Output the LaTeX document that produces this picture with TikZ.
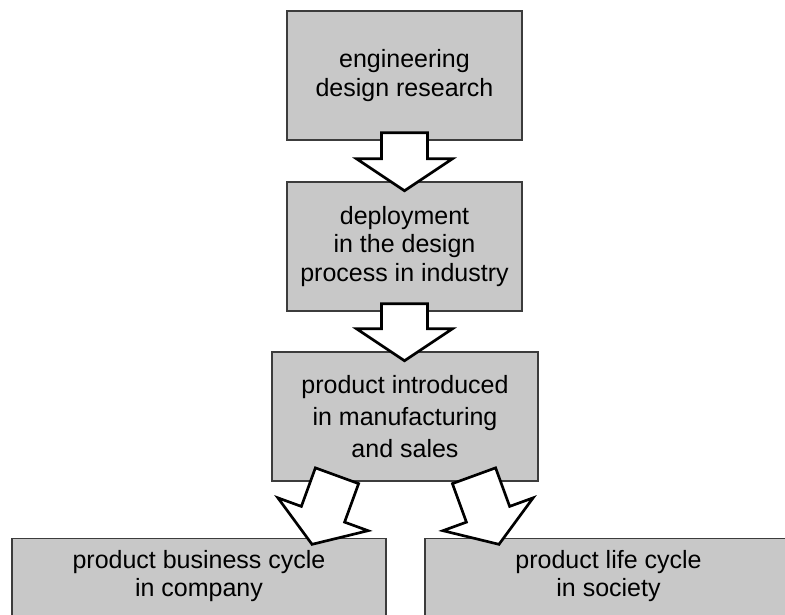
\documentclass[tikz,border=0pt]{standalone}
\usepackage{fontspec}
\setmainfont{Liberation Sans}
\usetikzlibrary{calc}
\definecolor{boxgray}{RGB}{200,200,200}
\definecolor{boxline}{RGB}{60,60,60}
\tikzset{
  stage/.style={draw=boxline, line width=1.1pt, fill=boxgray, align=center,
    inner sep=0pt, minimum height=129*0.75pt,
    font=\fontsize{18.75pt}{21.4pt}\selectfont},
  caption/.style={align=center, inner sep=0pt,
    font=\fontsize{18.75pt}{21pt}\selectfont},
  blockarrow/.style={draw=black, line width=2pt, fill=white, line join=miter},
  pics/bigarrow/.style={code={
    \draw[blockarrow] (-23,0) -- (23,0) -- (23,#1) -- (48,#1) -- (0,#1+32)
      -- (-48,#1) -- (-23,#1) -- cycle;}}
}
\begin{document}
\begin{tikzpicture}[x=0.75pt,y=-0.75pt]
  \useasboundingbox (0,0) rectangle (785,614);
  % stages
  \node[stage, minimum width=235*0.75pt] (research) at (404.5,75.5)
    {engineering\\design research};
  \node[stage, minimum width=235*0.75pt] (deploy) at (404.5,246.5)
    {deployment\\in the design\\process in industry};
  \node[stage, minimum width=266*0.75pt,
    font=\fontsize{18.75pt}{23.8pt}\selectfont] (product) at (405,416.5)
    {product introduced\\in manufacturing\\and sales};
  \node[stage, minimum width=374*0.75pt, anchor=north] (company) at (199,538) {};
  \node[stage, minimum width=367*0.75pt, anchor=north] (society) at (608.5,538) {};
  \node[caption] (companytext) at ($(company.north)+(0,38)$)
    {product business cycle\\in company};
  \node[caption] (societytext) at ($(society.north)+(0,38)$)
    {product life cycle\\in society};
  % arrows
  \pic at ($(research.south)+(0,-8)$) {bigarrow=26};
  \pic at ($(deploy.south)+(0,-8)$) {bigarrow=25};
  \pic[rotate=-20] at ($(product.south)+(-68,-6)$) {bigarrow=41};
  \pic[rotate=20] at ($(product.south)+(69,-6)$) {bigarrow=41};
\end{tikzpicture}
\end{document}
